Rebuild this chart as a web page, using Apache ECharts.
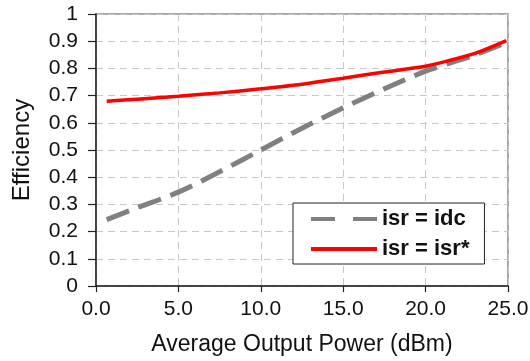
<!DOCTYPE html>
<html><head><meta charset="utf-8">
<script src="https://cdn.jsdelivr.net/npm/echarts@6/dist/echarts.min.js"></script>
<style>html,body{margin:0;padding:0;background:#fff}#c{width:530px;height:361px}</style>
</head><body><div id="c"></div>
<script>
const powerX = [0.65, 2.5, 5, 7.5, 10, 12.5, 15, 17.5, 20, 21.5, 23, 24.9];
const effIdc = [0.244, 0.288, 0.345, 0.42, 0.50, 0.58, 0.655, 0.725, 0.79, 0.82, 0.85, 0.895];
const effIsrStar = [0.679, 0.687, 0.698, 0.71, 0.725, 0.742, 0.764, 0.787, 0.808, 0.83, 0.855, 0.902];
const seriesNames = ['isr = idc', 'isr = isr*'];
const xTitle = 'Average Output Power (dBm)';
const yTitle = 'Efficiency';

const font = 'Liberation Sans, Arial, Helvetica, sans-serif';
const chart = echarts.init(document.getElementById('c'));
chart.setOption({
  animation: false,
  backgroundColor: '#fff',
  grid: {left: 96, right: 22, top: 14, bottom: 75, show: true, borderColor: '#8c8c8c', borderWidth: 1.5,
         containLabel: false, outerBoundsMode: 'none'},
  xAxis: {
    type: 'value', min: 0, max: 25, interval: 5,
    name: xTitle, nameLocation: 'middle', nameGap: 47,
    nameTextStyle: {fontFamily: font, fontSize: 23, color: '#111'},
    axisLine: {show: true, lineStyle: {color: '#222', width: 1.5}},
    axisTick: {show: true, length: 6, lineStyle: {color: '#222', width: 1.2}},
    axisLabel: {fontFamily: font, fontSize: 21, color: '#111', margin: 13, formatter: v => v.toFixed(1)},
    splitLine: {show: true, lineStyle: {color: '#c8c8c8', type: [7, 5], width: 1}}
  },
  yAxis: {
    type: 'value', min: 0, max: 1, interval: 0.1,
    name: yTitle, nameLocation: 'middle', nameGap: 62, nameRotate: 90,
    nameTextStyle: {fontFamily: font, fontSize: 24, color: '#111'},
    axisLine: {show: true, lineStyle: {color: '#222', width: 1.5}},
    axisTick: {show: true, length: 8, lineStyle: {color: '#222', width: 1.2}},
    axisLabel: {fontFamily: font, fontSize: 21, color: '#111', margin: 18, formatter: v => String(Math.round(v * 10) / 10)},
    splitLine: {show: true, lineStyle: {color: '#c8c8c8', type: [7, 5], width: 1}}
  },
  legend: {
    left: 293, top: 203, orient: 'vertical',
    padding: [5, 15, 4, 18],
    backgroundColor: '#fff', borderColor: '#222', borderWidth: 1,
    itemWidth: 66, itemHeight: 4, itemGap: 8,
    textStyle: {fontFamily: font, fontSize: 22, fontWeight: 'bold', color: '#111', lineHeight: 22},
    data: [
      {name: seriesNames[0], icon: 'path://M0,0h24v4h-24z M42,0h24v4h-24z', itemStyle: {color: '#808080'}},
      {name: seriesNames[1], icon: 'rect', itemStyle: {color: '#ff0000'}}
    ]
  },
  series: [
    {name: seriesNames[0], type: 'line', symbol: 'none', smooth: 0.3,
     data: powerX.map((x, i) => [x, effIdc[i]]),
     lineStyle: {color: '#808080', width: 5, type: [24, 10]}, itemStyle: {color: '#808080'}},
    {name: seriesNames[1], type: 'line', symbol: 'none', smooth: 0.3,
     data: powerX.map((x, i) => [x, effIsrStar[i]]),
     lineStyle: {color: '#ff0000', width: 3.5}, itemStyle: {color: '#ff0000'}}
  ]
});
</script></body></html>
